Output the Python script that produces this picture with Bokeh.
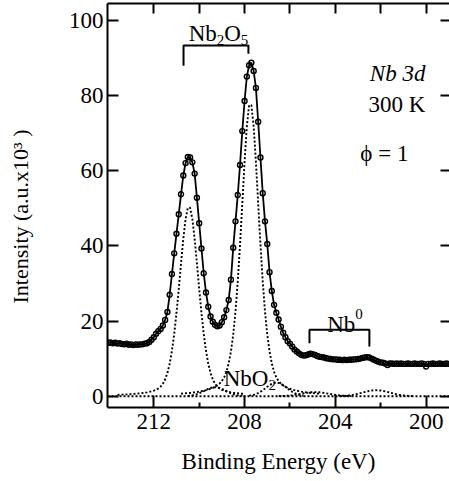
from bokeh.plotting import figure
from bokeh.models import Range1d, FixedTicker, LinearAxis, Label
from bokeh.embed import file_html
from bokeh.resources import INLINE

# ---------------- data ----------------
energy = [
    214.0, 213.9, 213.8, 213.7, 213.6, 213.5, 213.4, 213.3, 213.2, 213.1,
    213.0, 212.9, 212.8, 212.7, 212.6, 212.5, 212.4, 212.3, 212.2, 212.1,
    212.0, 211.9, 211.8, 211.7, 211.6, 211.5, 211.4, 211.3, 211.2, 211.1,
    211.0, 210.9, 210.8, 210.7, 210.6, 210.5, 210.4, 210.3, 210.2, 210.1,
    210.0, 209.9, 209.8, 209.7, 209.6, 209.5, 209.4, 209.3, 209.2, 209.1,
    209.0, 208.9, 208.8, 208.7, 208.6, 208.5, 208.4, 208.3, 208.2, 208.1,
    208.0, 207.9, 207.8, 207.7, 207.6, 207.5, 207.4, 207.3, 207.2, 207.1,
    207.0, 206.9, 206.8, 206.7, 206.6, 206.5, 206.4, 206.3, 206.2, 206.1,
    206.0, 205.9, 205.8, 205.7, 205.6, 205.5, 205.4, 205.3, 205.2, 205.1,
    205.0, 204.9, 204.8, 204.7, 204.6, 204.5, 204.4, 204.3, 204.2, 204.1,
    204.0, 203.9, 203.8, 203.7, 203.6, 203.5, 203.4, 203.3, 203.2, 203.1,
    203.0, 202.9, 202.8, 202.7, 202.6, 202.5, 202.4, 202.3, 202.2, 202.1,
    202.0, 201.9, 201.8, 201.7, 201.6, 201.5, 201.4, 201.3, 201.2, 201.1,
    201.0, 200.9, 200.8, 200.7, 200.6, 200.5, 200.4, 200.3, 200.2, 200.1,
    200.0, 199.9, 199.8, 199.7, 199.6, 199.5, 199.4, 199.3, 199.2, 199.1,
    199.0,
]
intensity = [
    14.2, 14.3, 14.1, 14.2, 14.0, 14.1, 13.9, 13.8, 14.0, 13.7,
    13.8, 13.6, 13.8, 13.7, 13.8, 13.8, 14.0, 14.1, 14.4, 15.0,
    15.7, 16.6, 17.3, 17.9, 18.8, 20.3, 22.4, 27.0, 32.5, 38.0,
    43.2, 48.4, 53.7, 58.7, 62.0, 63.6, 63.5, 62.2, 59.2, 52.8,
    46.0, 39.3, 32.7, 27.6, 23.8, 21.2, 19.8, 19.0, 18.6, 18.8,
    19.7, 21.0, 22.9, 25.6, 31.0, 39.5, 46.5, 53.5, 61.5, 70.5,
    78.5, 85.0, 88.0, 88.7, 86.5, 82.0, 73.0, 63.5, 54.0, 46.5,
    40.5, 33.0, 28.0, 24.3, 22.2, 20.4, 18.5, 16.9, 15.7, 14.6,
    14.0, 13.2, 12.4, 11.9, 11.4, 11.0, 10.8, 10.9, 11.1, 11.3,
    11.2, 11.0, 10.7, 10.5, 10.4, 10.3, 10.1, 10.0, 9.9, 9.8,
    9.8, 9.7, 9.7, 9.6, 9.7, 9.6, 9.7, 9.7, 9.8, 9.8,
    9.9, 10.0, 10.2, 10.3, 10.4, 10.3, 10.0, 9.7, 9.4, 9.2,
    9.0, 8.9, 8.7, 8.3, 8.7, 8.7, 8.6, 8.7, 8.6, 8.7,
    8.6, 8.6, 8.7, 8.6, 8.6, 8.7, 8.6, 8.6, 8.7, 8.6,
    7.9, 8.6, 8.6, 8.7, 8.6, 8.6, 8.7, 8.6, 8.6, 8.7,
    8.6,
]

# Nb2O5 3d3/2 component
nb2o5_a_energy = [
    213.6, 213.5, 213.4, 213.3, 213.2, 213.1, 213.0, 212.9, 212.8, 212.7,
    212.6, 212.5, 212.4, 212.3, 212.2, 212.1, 212.0, 211.9, 211.8, 211.7,
    211.6, 211.5, 211.4, 211.3, 211.2, 211.1, 211.0, 210.9, 210.8, 210.7,
    210.6, 210.5, 210.4, 210.3, 210.2, 210.1, 210.0, 209.9, 209.8, 209.7,
    209.6, 209.5, 209.4, 209.3, 209.2, 209.1, 209.0, 208.9, 208.8, 208.7,
    208.6, 208.5, 208.4, 208.3, 208.2, 208.1, 208.0,
]
nb2o5_a = [
    0.37, 0.40, 0.42, 0.45, 0.48, 0.52, 0.56, 0.61, 0.66, 0.71,
    0.78, 0.85, 0.93, 1.03, 1.15, 1.29, 1.47, 1.71, 2.06, 2.55,
    3.31, 4.46, 6.18, 8.67, 12.09, 16.58, 22.14, 28.53, 35.34, 41.84,
    47.11, 50.11, 50.11, 47.11, 41.84, 35.34, 28.53, 22.14, 16.58, 12.09,
    8.67, 6.18, 4.46, 3.31, 2.55, 2.06, 1.71, 1.47, 1.29, 1.15,
    1.03, 0.93, 0.85, 0.78, 0.71, 0.66, 0.61,
]

# Nb2O5 3d5/2 component
nb2o5_b_energy = [
    210.8, 210.7, 210.6, 210.5, 210.4, 210.3, 210.2, 210.1, 210.0, 209.9,
    209.8, 209.7, 209.6, 209.5, 209.4, 209.3, 209.2, 209.1, 209.0, 208.9,
    208.8, 208.7, 208.6, 208.5, 208.4, 208.3, 208.2, 208.1, 208.0, 207.9,
    207.8, 207.7, 207.6, 207.5, 207.4, 207.3, 207.2, 207.1, 207.0, 206.9,
    206.8, 206.7, 206.6, 206.5, 206.4, 206.3, 206.2, 206.1, 206.0, 205.9,
    205.8, 205.7, 205.6, 205.5, 205.4, 205.3, 205.2, 205.1, 205.0, 204.9,
    204.8, 204.7,
]
nb2o5_b = [
    0.68, 0.72, 0.78, 0.83, 0.90, 0.96, 1.04, 1.13, 1.23, 1.34,
    1.46, 1.61, 1.78, 1.98, 2.20, 2.51, 2.88, 3.37, 4.05, 5.00,
    6.50, 8.70, 11.9, 16.4, 22.5, 30.6, 40.3, 51.2, 62.3, 71.8,
    77.4, 77.4, 71.8, 62.3, 51.2, 40.3, 30.6, 22.5, 16.4, 11.9,
    8.70, 6.50, 5.00, 4.05, 3.37, 2.88, 2.51, 2.20, 1.98, 1.78,
    1.61, 1.46, 1.34, 1.23, 1.13, 1.04, 0.96, 0.90, 0.83, 0.78,
    0.72, 0.68,
]

# NbO2 components
nbo2_a_energy = [
    210.5, 210.4, 210.3, 210.2, 210.1, 210.0, 209.9, 209.8, 209.7, 209.6,
    209.5, 209.4, 209.3, 209.2, 209.1, 209.0, 208.9, 208.8, 208.7, 208.6,
    208.5, 208.4, 208.3, 208.2, 208.1,
]
nbo2_a = [
    0.09, 0.15, 0.24, 0.38, 0.55, 0.78, 1.05, 1.35, 1.66, 1.95,
    2.19, 2.35, 2.40, 2.35, 2.19, 1.95, 1.66, 1.35, 1.05, 0.78,
    0.55, 0.38, 0.24, 0.15, 0.09,
]
nbo2_b_energy = [
    207.8, 207.7, 207.6, 207.5, 207.4, 207.3, 207.2, 207.1, 207.0, 206.9,
    206.8, 206.7, 206.6, 206.5, 206.4, 206.3, 206.2, 206.1, 206.0, 205.9,
    205.8, 205.7, 205.6, 205.5, 205.4,
]
nbo2_b = [
    0.13, 0.23, 0.36, 0.56, 0.83, 1.17, 1.58, 2.03, 2.49, 2.93,
    3.28, 3.52, 3.60, 3.52, 3.28, 2.93, 2.49, 2.03, 1.58, 1.17,
    0.83, 0.56, 0.36, 0.23, 0.13,
]

# Nb metal components
nb0_a_energy = [206.5, 206.3, 206.1, 205.9, 205.7, 205.5, 205.3, 205.1, 204.9,
                204.7, 204.5, 204.3, 204.1, 203.9, 203.7, 203.5, 203.3]
nb0_a = [0.03, 0.07, 0.14, 0.27, 0.44, 0.66, 0.88, 1.04, 1.10,
         1.04, 0.88, 0.66, 0.44, 0.27, 0.14, 0.07, 0.03]
nb0_b_energy = [203.8, 203.6, 203.4, 203.2, 203.0, 202.8, 202.6, 202.4, 202.2,
                202.0, 201.8, 201.6, 201.4, 201.2, 201.0, 200.8, 200.6]
nb0_b = [0.04, 0.10, 0.21, 0.39, 0.65, 0.96, 1.28, 1.51, 1.60,
         1.51, 1.28, 0.96, 0.65, 0.39, 0.21, 0.10, 0.04]

baseline_energy = [214.04, 198.97]
baseline = [0.0, 0.0]

x_ticks = [212, 208, 204, 200]
x_minor_ticks = [210, 206, 202]
x_top_ticks = [212, 210, 208, 206, 204, 202, 200]
y_ticks = [0, 20, 40, 60, 80, 100]

# annotation brackets (positions)
nb2o5_bracket_e = [210.69, 210.69, 207.83, 207.83]
nb2o5_bracket_i = [87.9, 93.3, 93.3, 91.1]
nb0_bracket_e = [205.14, 205.14, 202.50, 202.50]
nb0_bracket_i = [14.1, 17.7, 17.7, 13.2]

# ---------------- figure ----------------
FONT = "Liberation Serif"

p = figure(width=449, height=481,
           x_range=Range1d(214.04, 198.97), y_range=Range1d(-3.0, 104.44),
           output_backend="svg", toolbar_location=None,
           min_border_left=107, min_border_right=0,
           min_border_top=3, min_border_bottom=74)
p.outline_line_color = None
p.xgrid.visible = False
p.ygrid.visible = False
p.background_fill_color = "white"
p.border_fill_color = "white"

dot = dict(line_color="black", line_width=1.9, line_dash="2 2")
p.line(baseline_energy, baseline, **dot)
p.line(nb2o5_a_energy, nb2o5_a, **dot)
p.line(nb2o5_b_energy, nb2o5_b, **dot)
p.line(nbo2_a_energy, nbo2_a, **dot)
p.line(nbo2_b_energy, nbo2_b, **dot)
p.line(nb0_a_energy, nb0_a, **dot)
p.line(nb0_b_energy, nb0_b, **dot)

p.line(energy, intensity, line_color="black", line_width=1.8)
p.scatter(energy, intensity, marker="circle", size=5, fill_color=None,
          line_color="black", line_width=1.4)

p.line(nb2o5_bracket_e, nb2o5_bracket_i, line_color="black", line_width=2)
p.line(nb0_bracket_e, nb0_bracket_i, line_color="black", line_width=2)

# axes
def style_axis(ax, tick_in):
    ax.axis_line_width = 2
    ax.axis_line_color = "black"
    ax.major_tick_line_width = 2
    ax.major_tick_line_color = "black"
    ax.minor_tick_line_width = 2
    ax.minor_tick_line_color = "black"
    ax.major_tick_in = tick_in
    ax.major_tick_out = 0
    ax.minor_tick_out = 0

xa = p.xaxis[0]
xa.ticker = FixedTicker(ticks=x_ticks, minor_ticks=x_minor_ticks)
style_axis(xa, 12)
xa.minor_tick_in = 5
xa.major_label_text_font = FONT
xa.major_label_text_font_size = "23px"
xa.major_label_text_color = "black"
xa.major_label_standoff = 6
xa.axis_label = "Binding Energy (eV)"
xa.axis_label_text_font = FONT
xa.axis_label_text_font_size = "23px"
xa.axis_label_text_font_style = "normal"
xa.axis_label_text_color = "black"
xa.axis_label_standoff = 17

ya = p.yaxis[0]
ya.ticker = FixedTicker(ticks=y_ticks, minor_ticks=[])
style_axis(ya, 11)
ya.minor_tick_line_color = None
ya.major_label_text_font = FONT
ya.major_label_text_font_size = "23px"
ya.major_label_text_color = "black"
ya.major_label_standoff = 4
ya.axis_label = "Intensity (a.u.x10³ )\u00a0\u00a0\u00a0\u00a0"
ya.axis_label_text_font = FONT
ya.axis_label_text_font_size = "22px"
ya.axis_label_text_font_style = "normal"
ya.axis_label_text_color = "black"
ya.axis_label_standoff = 33

top = LinearAxis(ticker=FixedTicker(ticks=x_top_ticks, minor_ticks=[]))
style_axis(top, 10)
top.minor_tick_line_color = None
top.major_label_text_font_size = "0px"
top.major_label_text_color = None
top.major_label_standoff = 0
p.add_layout(top, "above")

right = LinearAxis(ticker=FixedTicker(ticks=y_ticks, minor_ticks=[]))
style_axis(right, 9)
right.axis_line_color = None
right.minor_tick_line_color = None
right.major_label_text_font_size = "0px"
right.major_label_text_color = None
right.major_label_standoff = 0
p.add_layout(right, "right")

# text labels
def lab(x, y, text, size="23px", style="normal", align="left", xoff=0):
    p.add_layout(Label(x=x, y=y, text=text, x_offset=xoff,
                       text_font=FONT, text_font_size=size,
                       text_font_style=style, text_color="black",
                       text_align=align, text_baseline="alphabetic"))

# Nb2O5
lab(210.46, 96.4, "Nb")
lab(210.46, 94.8, "2", size="15px", xoff=28)
lab(210.46, 96.4, "O", xoff=35.5)
lab(210.46, 94.8, "5", size="15px", xoff=52)
# NbO2
lab(208.92, 4.8, "NbO")
lab(208.92, 2.9, "2", size="15px", xoff=44.7)
# Nb0
lab(204.36, 19.1, "Nb")
lab(204.36, 21.9, "0", size="15px", xoff=28)
# condition labels
lab(200.03, 85.9, "Nb 3d", style="italic", align="right")
lab(200.03, 77.6, "300 K", align="right")
lab(202.9, 64.6, "ϕ = 1")

open("out.html", "w").write(file_html(p, INLINE))
